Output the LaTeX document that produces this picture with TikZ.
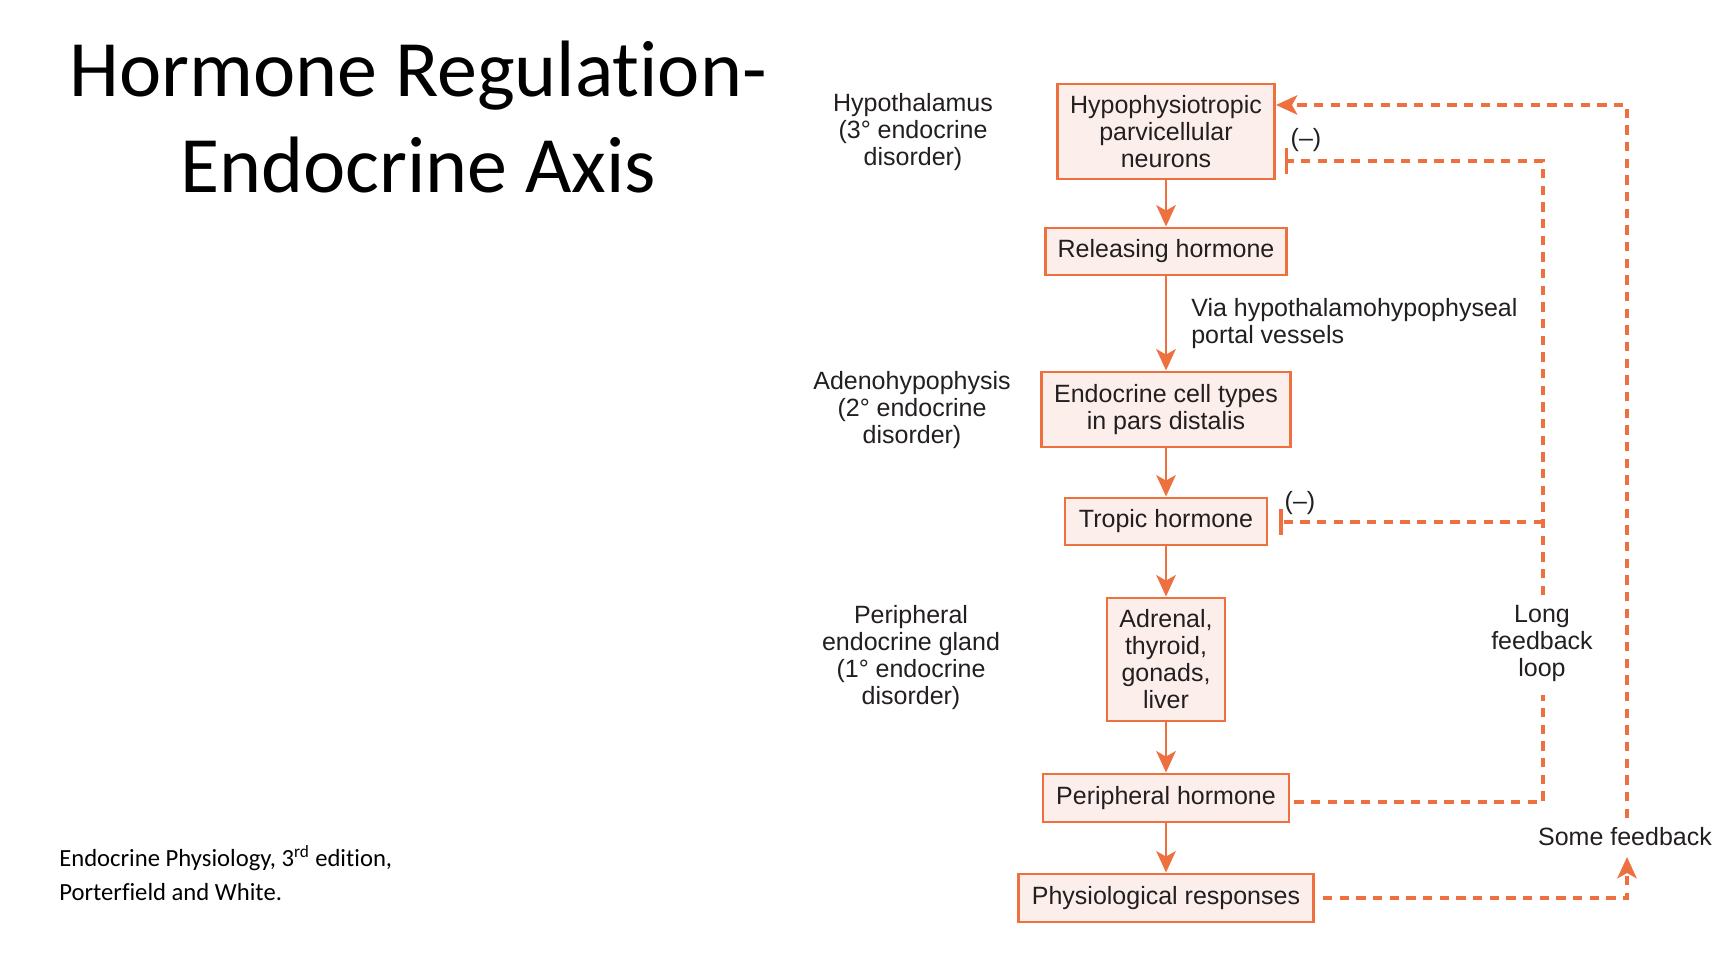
\documentclass[tikz,border=0pt]{standalone}
\usepackage{fontspec}
\setmainfont{Liberation Sans}
\newfontfamily\calibri[Ligatures=NoCommon]{Carlito}
\usetikzlibrary{arrows.meta}
\definecolor{orng}{RGB}{238,112,62}
\definecolor{boxfill}{RGB}{252,238,235}
\definecolor{ink}{RGB}{35,31,32}
\newcommand\dfont{\fontsize{18.75}{20.25}\selectfont}
\begin{document}
\begin{tikzpicture}[x=0.75pt,y=-0.75pt,
  box/.style={draw=orng, line width=2.2pt, fill=boxfill, align=center, inner sep=0pt, font=\dfont, text=ink},
  lbl/.style={align=center, inner sep=0pt, font=\dfont, text=ink},
  arr/.style={draw=orng, line width=2.2pt, -{Stealth[length=16pt,width=14.5pt,inset=4pt]}},
  fb/.style={draw=orng, line width=2.4pt, dash pattern=on 7pt off 5.5pt},
  fbarr/.style={-{Stealth[length=16pt,width=14.5pt,inset=4pt]}},
  inh/.style={-{Bar[width=19pt,line width=2.4pt]}}]
\path[use as bounding box, fill=white] (0,0) rectangle (1730,962);

% title and citation
\node[anchor=base, align=center, inner sep=0pt, font=\calibri\fontsize{60}{72}\selectfont] (title) at (418,193) {Hormone Regulation-\\Endocrine Axis};
\node[anchor=base west, align=left, inner sep=0pt, font=\calibri\fontsize{18.5}{25.5}\selectfont] (cite) at (59,900) {Endocrine Physiology, 3\textsuperscript{rd} edition,\\Porterfield and White.};

% boxes
\node[box, minimum width=162.75pt, minimum height=71.25pt] (hyp) at (1166,131.5) {Hypophysiotropic\\parvicellular\\neurons};
\node[box, minimum width=180.75pt, minimum height=35.25pt] (rel) at (1166,251.5) {Releasing hormone};
\node[box, minimum width=186.75pt, minimum height=56.25pt] (endo) at (1166,409.5) {Endocrine cell types\\in pars distalis};
\node[box, minimum width=151.5pt, minimum height=35.25pt] (trop) at (1166,521.5) {Tropic hormone};
\node[box, minimum width=88.5pt, minimum height=92.25pt] (adr) at (1166,659.5) {Adrenal,\\thyroid,\\gonads,\\liver};
\node[box, minimum width=184.5pt, minimum height=36pt] (per) at (1166,798) {Peripheral hormone};
\node[box, minimum width=221.25pt, minimum height=36pt] (phys) at (1166,898) {Physiological responses};

% side labels (anchored at the baseline of the last line)
\node[lbl, anchor=base] (lhyp) at (913,166) {Hypothalamus\\(3° endocrine\\disorder)};
\node[lbl, anchor=base] (lade) at (912,443) {Adenohypophysis\\(2° endocrine\\disorder)};
\node[lbl, anchor=base] (lper) at (911,704) {Peripheral\\endocrine gland\\(1° endocrine\\disorder)};
\node[lbl, align=left, anchor=base west] (via) at (1191,344) {Via hypothalamohypophyseal\\portal vessels};
\node[lbl, anchor=base] (neg1) at (1306,147) {(–)};
\node[lbl, anchor=base] (neg2) at (1300,509) {(–)};
\node[lbl, anchor=base] (lfl) at (1542,676) {Long\\feedback\\loop};
\node[lbl, anchor=base] (sf) at (1625,845) {Some feedback};

% main arrows
\draw[arr] (hyp.south) -- (rel.north);
\draw[arr] (rel.south) -- (endo.north);
\draw[arr] (endo.south) -- (trop.north);
\draw[arr] (trop.south) -- (adr.north);
\draw[arr] (adr.south) -- (per.north);
\draw[arr] (per.south) -- (phys.north);

% feedback coordinates
\coordinate (oc) at (1627,105);
\coordinate (ob) at (1627,898);
\coordinate (sfb) at (1627,857);
\coordinate (sft) at (1627,818);
\coordinate (ic) at (1543,161);
\coordinate (ib) at (1543,802);
\coordinate (ig1) at (1543,595);
\coordinate (ig2) at (1543,695);
\coordinate (ij) at (1543,522);
\path (hyp.east |- ic) ++(9,0) coordinate (bar1);
\path (trop.east |- ij) ++(11,0) coordinate (bar2);
\path (per.east |- ib) ++(4,0) coordinate (pe);
\path (phys.east) ++(8,0) coordinate (pse);

% some feedback loop
\draw[fb, fbarr] (pse) -- (ob) -- (sfb);
\draw[fb, fbarr] (sft) -- (oc) -- (oc -| hyp.east);

% long feedback loop
\draw[fb] (pe) -- (ib) -- (ig2);
\draw[fb, inh] (ig1) -- (ic) -- (bar1);
\draw[fb, inh] (ij) -- (bar2);
\end{tikzpicture}
\end{document}
